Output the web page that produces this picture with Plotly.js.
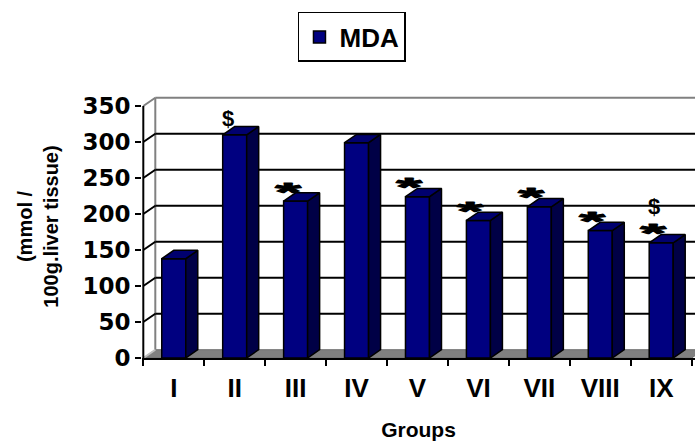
<!DOCTYPE html>
<html>
<head>
<meta charset="utf-8">
<script src="https://cdn.plot.ly/plotly-3.0.1.min.js"></script>
<style>
html,body{margin:0;padding:0;background:#fff;}
#chart{width:695px;height:441px;}
</style>
</head>
<body>
<div id="chart"></div>
<script>
// ---- data ----
const groups = ['I', 'II', 'III', 'IV', 'V', 'VI', 'VII', 'VIII', 'IX'];
const mda = [138, 310, 218, 299, 224, 191, 210, 177, 160];
const dollarMark = [false, true, false, false, false, false, false, false, true];
const starMark = [false, false, true, false, true, true, true, true, true];
const yTickVals = [0, 50, 100, 150, 200, 250, 300, 350];
const seriesName = 'MDA';
const xTitle = 'Groups';
const yTitle = '(mmol /<br>100g.liver tissue)';

// ---- geometry (3-D look) ----
const AR = 'Liberation Sans, Arial, sans-serif';
const DV = 'DejaVu Sans, Verdana, sans-serif';
const xIdx = groups.map((g, i) => i);
const BW = 0.394;      // bar width (category units)
const DX = 0.197;      // depth offset, x (category units)
const DY = 11.5;       // depth offset, y (value units)
const yTop = yTickVals[yTickVals.length - 1];
const xL = -0.5, xR = groups.length - 0.5;

// ---- walls / floor / grid as shapes below the data ----
const shapes = [];
// floor
shapes.push({type: 'path', xref: 'x', yref: 'y', layer: 'below',
  path: `M${xL},0 L${xR},0 L${xR + DX},${DY} L${xL + DX},${DY} Z`,
  fillcolor: '#808080', line: {color: '#6e6e6e', width: 1}});
// back wall left edge
shapes.push({type: 'line', xref: 'x', yref: 'y', layer: 'below',
  x0: xL + DX, y0: DY, x1: xL + DX, y1: yTop + DY, line: {color: '#808080', width: 2}});
yTickVals.forEach(v => {
  const top = v === yTop;
  const col = top ? '#808080' : '#000';
  if (v > 0) {
    // back wall gridline
    shapes.push({type: 'line', xref: 'x', yref: 'y', layer: 'below',
      x0: xL + DX, y0: v + DY, x1: xR + 2 * DX, y1: v + DY, line: {color: col, width: 2}});
  }
  // side wall slanted line
  shapes.push({type: 'line', xref: 'x', yref: 'y', layer: 'below',
    x0: xL, y0: v, x1: xL + DX, y1: v + DY, line: {color: v === 0 ? '#c0c0c0' : col, width: 2}});
});
// front value axis line
shapes.push({type: 'line', xref: 'x', yref: 'y', layer: 'below',
  x0: xL, y0: 0, x1: xL, y1: yTop, line: {color: '#000', width: 2}});

// ---- bar side and top faces (polygons from the data) ----
const sideX = [], sideY = [], topX = [], topY = [];
mda.forEach((v, i) => {
  const l = i - BW / 2, r = i + BW / 2;
  sideX.push(r, r + DX, r + DX, r, r, null);
  sideY.push(0, DY, v + DY, v, 0, null);
  topX.push(l, r, r + DX, l + DX, l, null);
  topY.push(v, v, v + DY, v + DY, v, null);
});

const traces = [
  {type: 'bar', x: xIdx, y: mda, width: BW, name: seriesName,
   marker: {color: '#000080', line: {color: '#000', width: 1.5}}, hoverinfo: 'skip'},
  {type: 'scatter', mode: 'lines', x: sideX, y: sideY, fill: 'toself', fillcolor: '#000046',
   line: {color: '#000', width: 1.5}, showlegend: false, hoverinfo: 'skip'},
  {type: 'scatter', mode: 'lines', x: topX, y: topY, fill: 'toself', fillcolor: '#00006e',
   line: {color: '#000', width: 1.5}, showlegend: false, hoverinfo: 'skip'}
];

// ---- significance marks ----
const annotations = [];
mda.forEach((v, i) => {
  if (starMark[i]) {
    annotations.push({x: i, y: v, xref: 'x', yref: 'y', text: '*', showarrow: false,
      xanchor: 'center', yanchor: 'middle', xshift: -8, yshift: 8,
      font: {family: AR, size: 36, weight: 'bold', color: '#000'}});
  }
  if (dollarMark[i]) {
    annotations.push({x: i, y: v, xref: 'x', yref: 'y', text: '$', showarrow: false,
      xanchor: 'center', yanchor: 'middle', xshift: -7, yshift: starMark[i] ? 36 : 16,
      font: {family: AR, size: 22, weight: 'bold', color: '#000'}});
  }
});

const layout = {
  width: 695, height: 441,
  margin: {l: 142, r: 0, t: 95, b: 83, autoexpand: false},
  paper_bgcolor: '#fff', plot_bgcolor: 'rgba(0,0,0,0)',
  barmode: 'overlay',
  showlegend: true,
  legend: {x: 0.3797, xanchor: 'center', y: 1.3156, yanchor: 'top',
    bordercolor: '#000', borderwidth: 1.5, bgcolor: '#fff',
    font: {family: AR, size: 26, weight: 'bold', color: '#000'}},
  xaxis: {
    range: [-0.5213, 8.5547], tickmode: 'array', tickvals: xIdx, ticktext: groups,
    ticks: '', showgrid: false, zeroline: false, showline: true, linecolor: '#000', linewidth: 2,
    tickfont: {family: AR, size: 26, weight: 'bold', color: '#000'},
    ticklabelstandoff: 6,
    minor: {tickmode: 'linear', tick0: -0.5, dtick: 1, ticks: 'outside', ticklen: 6,
            tickwidth: 2, tickcolor: '#000', showgrid: false},
    title: {text: xTitle, font: {family: AR, size: 21, weight: 'bold', color: '#000'}, standoff: 22},
    fixedrange: true
  },
  yaxis: {
    range: [0, 365.28], tickmode: 'array', tickvals: yTickVals,
    ticks: 'outside', ticklen: 6, tickwidth: 2, tickcolor: '#000',
    showline: false, showgrid: false, zeroline: false,
    tickfont: {family: DV, size: 23, weight: 'bold', color: '#000'},
    title: {text: yTitle, font: {family: AR, size: 20, weight: 'bold', color: '#000'}, standoff: 18},
    fixedrange: true
  },
  shapes: shapes,
  annotations: annotations
};

Plotly.newPlot('chart', traces, layout, {staticPlot: true, displayModeBar: false}).then(() => {
  // widen and thicken the asterisks like the original squashed star glyphs
  document.querySelectorAll('g.annotation text.annotation-text').forEach(el => {
    if (el.textContent.trim() === '*') {
      const b = el.getBBox();
      const cx = b.x + b.width / 2, cy = b.y + b.height * 0.35;
      const prev = el.getAttribute('transform') || '';
      el.setAttribute('transform', (prev + ` translate(${cx} ${cy}) scale(1.8 0.72) translate(${-cx} ${-cy})`).trim());
      el.style.stroke = '#000';
      el.style.strokeWidth = '1.6px';
      el.style.strokeLinejoin = 'round';
    }
  });
});
</script>
</body>
</html>
